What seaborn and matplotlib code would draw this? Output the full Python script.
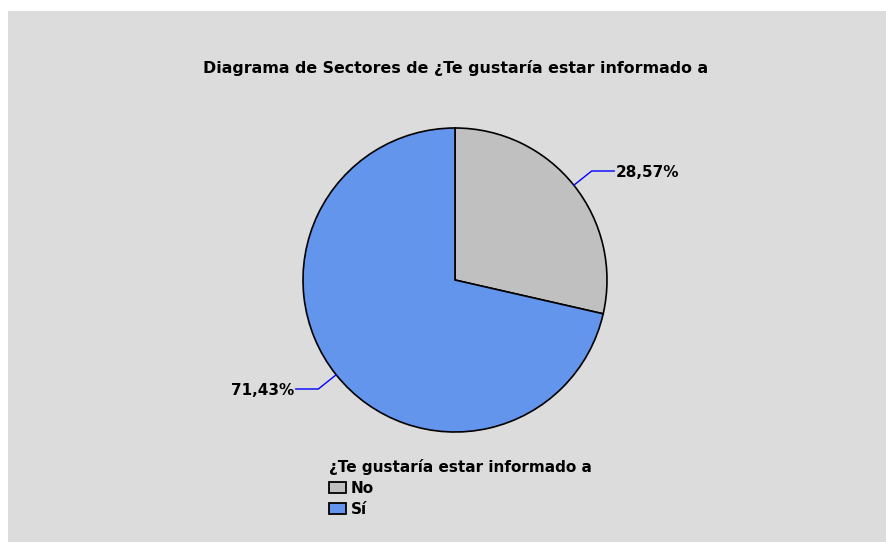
import numpy as np
import matplotlib
matplotlib.use('Agg')
import matplotlib.pyplot as plt
import matplotlib.patches as mpatches
import seaborn as sns

# data
categories = ['No', 'Sí']
percentages = [28.57, 71.43]
labels = ['28,57%', '71,43%']
colors = ['#c0c0c0', '#6495ed']
chart_title = 'Diagrama de Sectores de ¿Te gustaría estar informado a'
legend_title = '¿Te gustaría estar informado a'

sns.set_style('white')
plt.rcParams['font.family'] = ['DejaVu Sans']
plt.rcParams['text.color'] = 'black'

W, H = 887, 542
fig = plt.figure(figsize=(W / 100, H / 100), dpi=100)
fig.patch.set_facecolor('white')

# gray panel behind everything
fig.patches.append(mpatches.Rectangle((8 / W, 0), 1, 1 - 11 / H, transform=fig.transFigure,
                                      facecolor='#dcdcdc', edgecolor='none', zorder=-5))

fig.text(455.5 / W, 1 - 68 / H, chart_title, ha='center', va='center',
         fontsize=11.4, fontweight='bold')

# pie axes
cx, cy, r = 455, 280, 152
half = 220
ax = fig.add_axes([(cx - half) / W, (H - cy - half) / H, 2 * half / W, 2 * half / H])
ax.set_facecolor('none')

wedges, _ = ax.pie(percentages, colors=colors, startangle=90, counterclock=False,
                   radius=1, wedgeprops=dict(edgecolor='black', linewidth=1.2))
lim = half / r
ax.set_xlim(-lim, lim)
ax.set_ylim(-lim, lim)
ax.axis('off')

# leader lines and labels
for w, lab in zip(wedges, labels):
    mid = np.deg2rad((w.theta1 + w.theta2) / 2)
    x0, y0 = np.cos(mid), np.sin(mid)
    x1, y1 = 1.15 * x0, 1.15 * y0
    sign = 1 if x0 > 0 else -1
    x2 = x1 + sign * 0.15
    ax.plot([x0, x1, x2], [y0, y1, y1], color='#0000ff', lw=1, clip_on=False)
    ax.text(x2 + sign * 0.01, y1 - 0.01, lab, ha='left' if sign > 0 else 'right',
            va='center', fontsize=11, fontweight='bold')

handles = [mpatches.Patch(facecolor=c, edgecolor='black', linewidth=1.3, label=cat)
           for c, cat in zip(colors, categories)]
leg = fig.legend(handles=handles, title=legend_title, loc='upper left',
                 bbox_to_anchor=(329 / W, 1 - 459 / H), frameon=False,
                 fontsize=11, title_fontproperties={'weight': 'bold', 'size': 11},
                 handlelength=1.1, handleheight=0.7, handletextpad=0.3,
                 labelspacing=0.4, borderpad=0, borderaxespad=0, alignment='left')
leg._legend_box.sep = 4
for t in leg.get_texts():
    t.set_fontweight('bold')

fig.savefig('out.png', dpi=100)
